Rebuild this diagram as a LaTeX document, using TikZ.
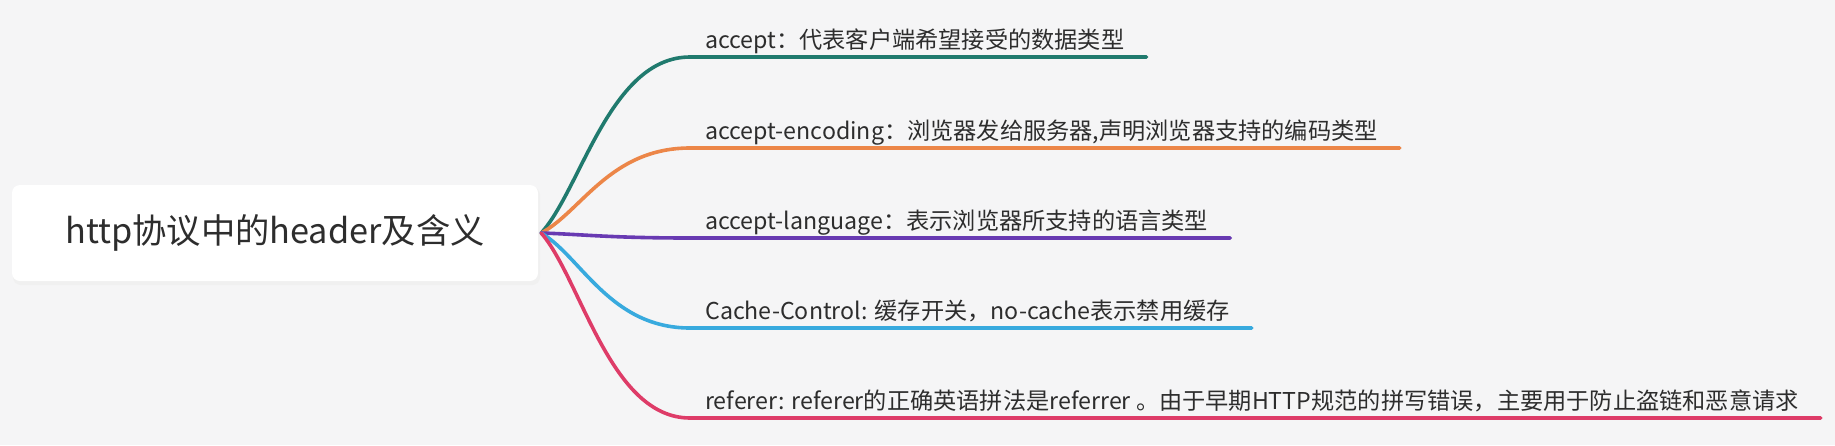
\documentclass[tikz,border=0pt]{standalone}
\usepackage{fontspec}
\setmainfont{Noto Sans CJK SC}
\usetikzlibrary{positioning,calc}
\definecolor{bgcol}{RGB}{245,245,246}
\definecolor{txtcol}{RGB}{45,45,45}
\definecolor{cteal}{RGB}{32,122,110}
\definecolor{corange}{RGB}{236,134,72}
\definecolor{cpurple}{RGB}{104,58,178}
\definecolor{cblue}{RGB}{56,170,222}
\definecolor{cred}{RGB}{222,60,104}

\begin{document}
\begin{tikzpicture}[x=1pt,y=-1pt,
  rootbox/.style={fill=white,rounded corners=8pt,minimum width=526pt,minimum height=96pt,inner sep=0pt,font=\fontsize{34.3}{41}\selectfont,text=txtcol},
  leaf/.style={anchor=base west,inner sep=0pt,font=\fontsize{23.2}{28}\selectfont,text=txtcol},
  branch/.style={line width=3.6pt,line cap=round}]
\fill[bgcol] (0,0) rectangle (1835,445);
\useasboundingbox (0,0) rectangle (1835,445);
\fill[black!6,rounded corners=8pt] (13,187) rectangle (540,285);
\node[rootbox] (root) at (275,233) {http协议中的header及含义};
\coordinate (hub) at ($(root.east)+(3,0)$);
% branches: id / line y / colour / text
\foreach \id/\yy/\col/\lab in {
  a/57/cteal/{accept：代表客户端希望接受的数据类型},
  b/148/corange/{accept-encoding：浏览器发给服务器,声明浏览器支持的编码类型},
  c/238/cpurple/{accept-language：表示浏览器所支持的语言类型},
  d/328/cblue/{Cache-Control: 缓存开关，no-cache表示禁用缓存},
  e/418/cred/{referer: referer的正确英语拼法是referrer 。由于早期HTTP规范的拼写错误，主要用于防止盗链和恶意请求}}{
  \node[leaf] (t\id) at (705,\yy-9) {\lab};
  \coordinate (s\id) at (690,\yy);
  \coordinate (e\id) at ($(t\id.east |- s\id)+(22,0)$);
  \draw[branch,\col] (hub) .. controls ($(hub)+(40,{0.25*(\yy-233)})$) and ($(s\id)+(-80,0)$) .. (s\id) -- (e\id);
}
\end{tikzpicture}
\end{document}
